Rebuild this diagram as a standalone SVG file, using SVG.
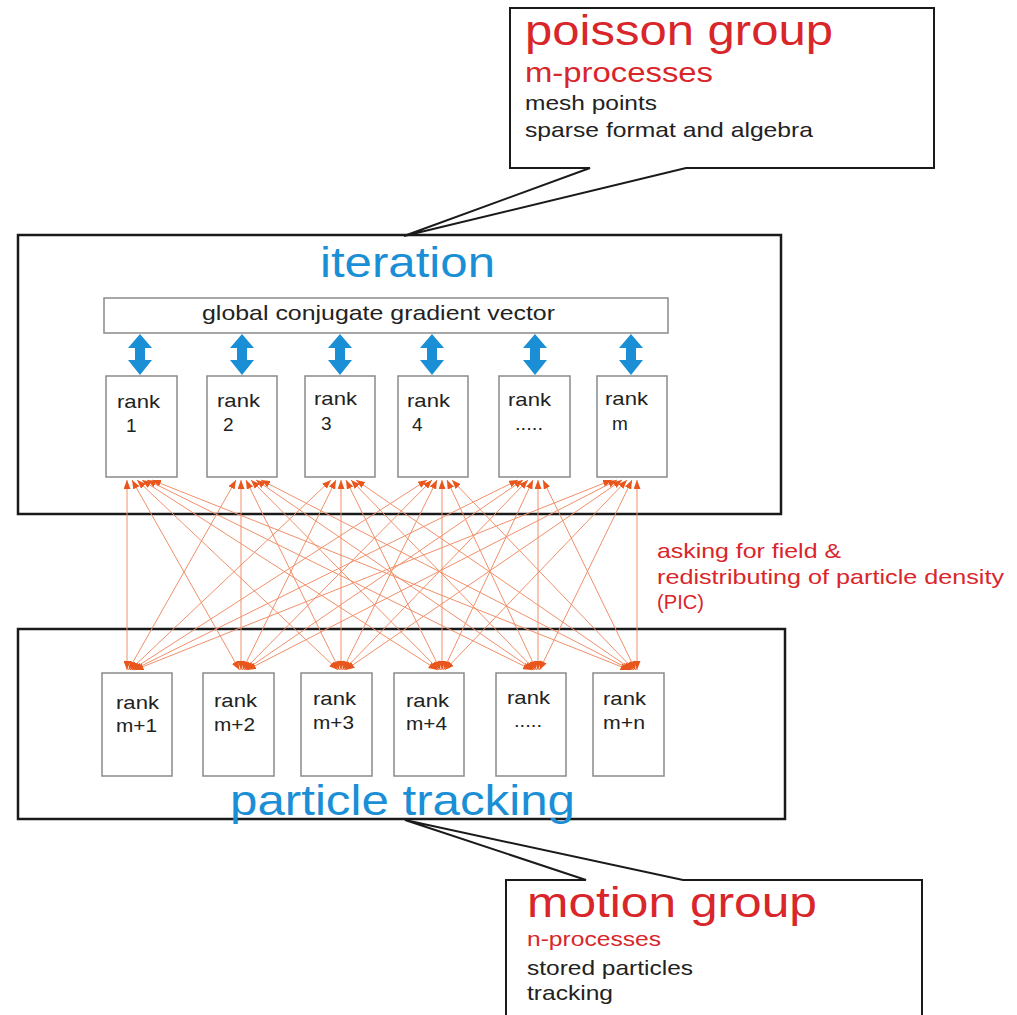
<svg xmlns="http://www.w3.org/2000/svg" width="1017" height="1015" viewBox="0 0 1017 1015">
<defs>
<style>
text{font-family:"Liberation Sans",Arial,sans-serif}
.frame{fill:#fff;stroke:#1a1a1a;stroke-width:2.5}
.callout{fill:#fff;stroke:#1a1a1a;stroke-width:2;stroke-linejoin:miter}
.rank{fill:#fff;stroke:#8a8a8a;stroke-width:1.5}
.rt{font-size:19px;fill:#222}
.blue{fill:#1b8fd6}
.red{fill:#d8262a}
.dark{fill:#222}
.conn line{stroke:#f0906a;stroke-width:1;marker-start:url(#ah);marker-end:url(#ah)}
.dbl{fill:#1b8fd6}
</style>
<marker id="ah" markerUnits="userSpaceOnUse" markerWidth="9" markerHeight="7" refX="9" refY="3.5" orient="auto-start-reverse">
<path d="M0,0 L9,3.5 L0,7 Z" fill="#e8561c"/>
</marker>
</defs>
<rect width="1017" height="1015" fill="#fff"/>

<g id="iteration">
<rect class="frame" x="18" y="235" width="763" height="279"/>
<text class="blue" x="320" y="277" font-size="42" textLength="175" lengthAdjust="spacingAndGlyphs">iteration</text>
</g>

<g id="particle-tracking">
<rect class="frame" x="18" y="629" width="767" height="190"/>
</g>

<g id="poisson-group">
<path class="callout" d="M510,8 H934 V168 H686 L404,236 L590,168 H510 Z"/>
<text class="red" x="525" y="45" font-size="42" textLength="308" lengthAdjust="spacingAndGlyphs">poisson group</text>
<text class="red" x="525" y="82" font-size="27" textLength="188" lengthAdjust="spacingAndGlyphs">m-processes</text>
<text class="dark" x="525" y="110" font-size="21" textLength="132" lengthAdjust="spacingAndGlyphs">mesh points</text>
<text class="dark" x="525" y="137" font-size="21" textLength="288" lengthAdjust="spacingAndGlyphs">sparse format and algebra</text>
</g>

<g id="motion-group">
<path class="callout" d="M506,1030 V880 H586 L405,820 L683,880 H922 V1030"/>
<text class="red" x="527" y="917" font-size="42" textLength="290" lengthAdjust="spacingAndGlyphs">motion group</text>
<text class="red" x="527" y="946" font-size="21" textLength="134" lengthAdjust="spacingAndGlyphs">n-processes</text>
<text class="dark" x="527" y="975" font-size="21" textLength="166" lengthAdjust="spacingAndGlyphs">stored particles</text>
<text class="dark" x="527" y="1000" font-size="21" textLength="86" lengthAdjust="spacingAndGlyphs">tracking</text>
</g>

<g id="global-cg-vector">
<rect class="rank" x="104" y="298" width="564" height="35"/>
<text class="dark" x="202" y="320" font-size="21" textLength="353" lengthAdjust="spacingAndGlyphs">global conjugate gradient vector</text>
</g>

<g id="blue-arrows">
<polygon class="dbl" points="140,334 152,348 145,348 145,360 152,360 140,375 128,360 135,360 135,348 128,348"/>
<polygon class="dbl" points="242,334 254,348 247,348 247,360 254,360 242,375 230,360 237,360 237,348 230,348"/>
<polygon class="dbl" points="340,334 352,348 345,348 345,360 352,360 340,375 328,360 335,360 335,348 328,348"/>
<polygon class="dbl" points="432,334 444,348 437,348 437,360 444,360 432,375 420,360 427,360 427,348 420,348"/>
<polygon class="dbl" points="535,334 547,348 540,348 540,360 547,360 535,375 523,360 530,360 530,348 523,348"/>
<polygon class="dbl" points="631,334 643,348 636,348 636,360 643,360 631,375 619,360 626,360 626,348 619,348"/>
</g>

<g id="rank-1"><rect class="rank" x="106" y="376" width="71" height="101"/><text class="rt" x="117" y="408" textLength="43" lengthAdjust="spacingAndGlyphs">rank</text><text class="rt" x="126" y="432">1</text></g>
<g id="rank-2"><rect class="rank" x="207" y="376" width="70" height="101"/><text class="rt" x="217" y="407" textLength="43" lengthAdjust="spacingAndGlyphs">rank</text><text class="rt" x="223" y="431">2</text></g>
<g id="rank-3"><rect class="rank" x="305" y="376" width="70" height="101"/><text class="rt" x="314" y="405" textLength="43" lengthAdjust="spacingAndGlyphs">rank</text><text class="rt" x="321" y="430">3</text></g>
<g id="rank-4"><rect class="rank" x="398" y="376" width="70" height="101"/><text class="rt" x="407" y="407" textLength="43" lengthAdjust="spacingAndGlyphs">rank</text><text class="rt" x="412" y="431">4</text></g>
<g id="rank-dots"><rect class="rank" x="499" y="376" width="71" height="101"/><text class="rt" x="508" y="406" textLength="43" lengthAdjust="spacingAndGlyphs">rank</text><text class="rt" x="515" y="430" textLength="28" lengthAdjust="spacingAndGlyphs">.....</text></g>
<g id="rank-m"><rect class="rank" x="597" y="376" width="70" height="101"/><text class="rt" x="605" y="405" textLength="43" lengthAdjust="spacingAndGlyphs">rank</text><text class="rt" x="612" y="430">m</text></g>

<g id="rank-m1"><rect class="rank" x="102" y="673" width="70" height="103"/><text class="rt" x="116" y="709" textLength="43" lengthAdjust="spacingAndGlyphs">rank</text><text class="rt" x="116" y="732" textLength="41" lengthAdjust="spacingAndGlyphs">m+1</text></g>
<g id="rank-m2"><rect class="rank" x="203" y="673" width="71" height="103"/><text class="rt" x="214" y="707" textLength="43" lengthAdjust="spacingAndGlyphs">rank</text><text class="rt" x="214" y="731" textLength="41" lengthAdjust="spacingAndGlyphs">m+2</text></g>
<g id="rank-m3"><rect class="rank" x="301" y="673" width="71" height="103"/><text class="rt" x="313" y="705" textLength="43" lengthAdjust="spacingAndGlyphs">rank</text><text class="rt" x="313" y="729" textLength="41" lengthAdjust="spacingAndGlyphs">m+3</text></g>
<g id="rank-m4"><rect class="rank" x="394" y="673" width="70" height="103"/><text class="rt" x="406" y="707" textLength="43" lengthAdjust="spacingAndGlyphs">rank</text><text class="rt" x="406" y="730" textLength="41" lengthAdjust="spacingAndGlyphs">m+4</text></g>
<g id="rank-mdots"><rect class="rank" x="496" y="673" width="70" height="103"/><text class="rt" x="507" y="704" textLength="43" lengthAdjust="spacingAndGlyphs">rank</text><text class="rt" x="514" y="727" textLength="28" lengthAdjust="spacingAndGlyphs">.....</text></g>
<g id="rank-mn"><rect class="rank" x="593" y="673" width="71" height="103"/><text class="rt" x="603" y="705" textLength="43" lengthAdjust="spacingAndGlyphs">rank</text><text class="rt" x="603" y="729" textLength="42" lengthAdjust="spacingAndGlyphs">m+n</text></g>

<g id="connectors" class="conn">
<line x1="127" y1="670" x2="127" y2="480"/>
<line x1="239.5" y1="670" x2="132" y2="480"/>
<line x1="338" y1="670" x2="137" y2="480"/>
<line x1="437.5" y1="670" x2="142" y2="480"/>
<line x1="532" y1="670" x2="147" y2="480"/>
<line x1="629.5" y1="670" x2="152" y2="480"/>
<line x1="128.5" y1="670" x2="236" y2="480"/>
<line x1="241" y1="670" x2="241" y2="480"/>
<line x1="339.5" y1="670" x2="246" y2="480"/>
<line x1="439" y1="670" x2="251" y2="480"/>
<line x1="533.5" y1="670" x2="256" y2="480"/>
<line x1="631" y1="670" x2="261" y2="480"/>
<line x1="130" y1="670" x2="331" y2="480"/>
<line x1="242.5" y1="670" x2="336" y2="480"/>
<line x1="341" y1="670" x2="341" y2="480"/>
<line x1="440.5" y1="670" x2="346" y2="480"/>
<line x1="535" y1="670" x2="351" y2="480"/>
<line x1="632.5" y1="670" x2="356" y2="480"/>
<line x1="131.5" y1="670" x2="427" y2="480"/>
<line x1="244" y1="670" x2="432" y2="480"/>
<line x1="342.5" y1="670" x2="437" y2="480"/>
<line x1="442" y1="670" x2="442" y2="480"/>
<line x1="536.5" y1="670" x2="447" y2="480"/>
<line x1="634" y1="670" x2="452" y2="480"/>
<line x1="133" y1="670" x2="518" y2="480"/>
<line x1="245.5" y1="670" x2="523" y2="480"/>
<line x1="344" y1="670" x2="528" y2="480"/>
<line x1="443.5" y1="670" x2="533" y2="480"/>
<line x1="538" y1="670" x2="538" y2="480"/>
<line x1="635.5" y1="670" x2="543" y2="480"/>
<line x1="134.5" y1="670" x2="612" y2="480"/>
<line x1="247" y1="670" x2="617" y2="480"/>
<line x1="345.5" y1="670" x2="622" y2="480"/>
<line x1="445" y1="670" x2="627" y2="480"/>
<line x1="539.5" y1="670" x2="632" y2="480"/>
<line x1="637" y1="670" x2="637" y2="480"/>
</g>

<g id="pic-label">
<text class="red" x="657" y="558" font-size="21" textLength="184" lengthAdjust="spacingAndGlyphs">asking for field &amp;</text>
<text class="red" x="657" y="584" font-size="21" textLength="347" lengthAdjust="spacingAndGlyphs">redistributing of particle density</text>
<text class="red" x="657" y="609" font-size="21" textLength="47" lengthAdjust="spacingAndGlyphs">(PIC)</text>
</g>

<g id="particle-tracking-label">
<text class="blue" x="230" y="815" font-size="42" textLength="345" lengthAdjust="spacingAndGlyphs">particle tracking</text>
</g>
</svg>
